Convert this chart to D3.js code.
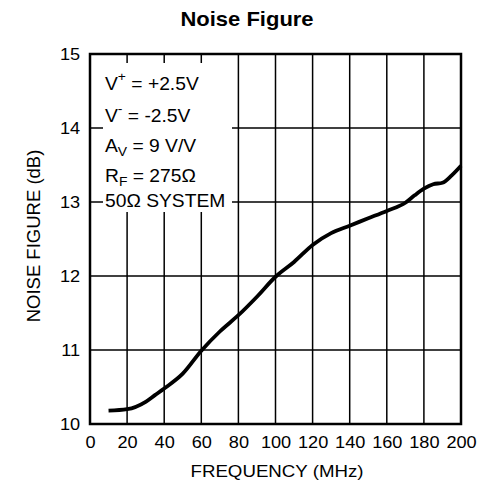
<!DOCTYPE html>
<html>
<head>
<meta charset="utf-8">
<script src="https://cdn.jsdelivr.net/npm/d3@7"></script>
<style>
  body { margin: 0; background: #fff; }
  text { font-family: "Liberation Sans", Arial, Helvetica, sans-serif; fill: #000; }
</style>
</head>
<body>
<svg id="chart"></svg>
<script>
// data
const freqMHz = [10, 20, 30, 35, 40, 50, 60, 70, 80, 90, 100, 110, 120, 130, 140, 150, 160, 170, 175, 180, 185, 190, 195, 200];
const noiseDb = [10.18, 10.2, 10.3, 10.39, 10.48, 10.68, 10.99, 11.25, 11.47, 11.72, 11.99, 12.19, 12.42, 12.58, 12.68, 12.78, 12.88, 12.99, 13.09, 13.18, 13.24, 13.26, 13.36, 13.49];
const xTicks = [0, 20, 40, 60, 80, 100, 120, 140, 160, 180, 200];
const yTicks = [10, 11, 12, 13, 14, 15];

const width = 498, height = 498;
const margin = { top: 54, right: 37, bottom: 74, left: 90 };
const w = width - margin.left - margin.right;
const h = height - margin.top - margin.bottom;
const stretch = 1.1; // the reference type is a bit wide

const svg = d3.select("#chart").attr("width", width).attr("height", height);
const g = svg.append("g").attr("transform", `translate(${margin.left},${margin.top})`);

const x = d3.scaleLinear().domain([0, 200]).range([0, w]);
const y = d3.scaleLinear().domain([10, 15]).range([h, 0]);

// grid
g.selectAll("line.vgrid").data(xTicks).join("line")
  .attr("class", "vgrid")
  .attr("x1", d => x(d)).attr("x2", d => x(d))
  .attr("y1", 0).attr("y2", h)
  .attr("stroke", "#000").attr("stroke-width", 1.5);
g.selectAll("line.hgrid").data(yTicks).join("line")
  .attr("class", "hgrid")
  .attr("x1", 0).attr("x2", w)
  .attr("y1", d => y(d)).attr("y2", d => y(d))
  .attr("stroke", "#000").attr("stroke-width", 1.5);

// annotation box (white background hides grid)
g.append("rect")
  .attr("x", 13).attr("y", 9).attr("width", 129).attr("height", 149)
  .attr("fill", "#fff");

g.append("rect")
  .attr("x", 0).attr("y", 0).attr("width", w).attr("height", h)
  .attr("fill", "none").attr("stroke", "#000").attr("stroke-width", 2.5);

// curve
const line = d3.line()
  .x((d, i) => x(freqMHz[i]))
  .y(d => y(d))
  .curve(d3.curveMonotoneX);
g.append("path")
  .datum(noiseDb)
  .attr("d", line)
  .attr("fill", "none")
  .attr("stroke", "#000")
  .attr("stroke-width", 3.8)
  .attr("stroke-linejoin", "round");

// axis labels
const xAxis = d3.axisBottom(x).tickValues(xTicks).tickSize(0).tickPadding(12);
const yAxis = d3.axisLeft(y).tickValues(yTicks).tickFormat(d3.format("d")).tickSize(0).tickPadding(9);
const gx = g.append("g").attr("transform", `translate(0,${h})`).call(xAxis);
const gy = g.append("g").call(yAxis);
[gx, gy].forEach(a => {
  a.select(".domain").remove();
  a.selectAll("text")
    .attr("font-size", 16.5)
    .attr("font-family", "Liberation Sans, Arial, sans-serif")
    .attr("fill", "#000")
    .attr("transform", `scale(${stretch},1)`);
});

// titles
svg.append("text")
  .attr("transform", `translate(247,26) scale(${stretch},1)`)
  .attr("text-anchor", "middle")
  .attr("font-size", 20).attr("font-weight", "bold")
  .text("Noise Figure");

svg.append("text")
  .attr("transform", `translate(277,477) scale(${stretch},1)`)
  .attr("text-anchor", "middle")
  .attr("font-size", 17)
  .text("FREQUENCY (MHz)");

svg.append("text")
  .attr("transform", "translate(40,236) rotate(-90)")
  .attr("text-anchor", "middle")
  .attr("font-size", 18.5)
  .text("NOISE FIGURE (dB)");

// conditions text
const notes = [
  { main: "V", sub: "+", sup: true, rest: " = +2.5V", y: 90 },
  { main: "V", sub: "-", sup: true, rest: " = -2.5V", y: 122 },
  { main: "A", sub: "V", sup: false, rest: " = 9 V/V", y: 152 },
  { main: "R", sub: "F", sup: false, rest: " = 275\u03A9", y: 182 },
  { main: "50\u03A9 SYSTEM", sub: "", sup: false, rest: "", y: 207 }
];
notes.forEach(n => {
  const t = svg.append("text")
    .attr("transform", `translate(105,${n.y}) scale(1.07,1)`)
    .attr("font-size", 18);
  t.append("tspan").text(n.main);
  if (n.sub) {
    t.append("tspan")
      .attr("font-size", 13)
      .attr("dy", n.sup ? -9 : 4)
      .text(n.sub);
    t.append("tspan").attr("dy", n.sup ? 9 : -4).text(n.rest);
  }
});
</script>
</body>
</html>
